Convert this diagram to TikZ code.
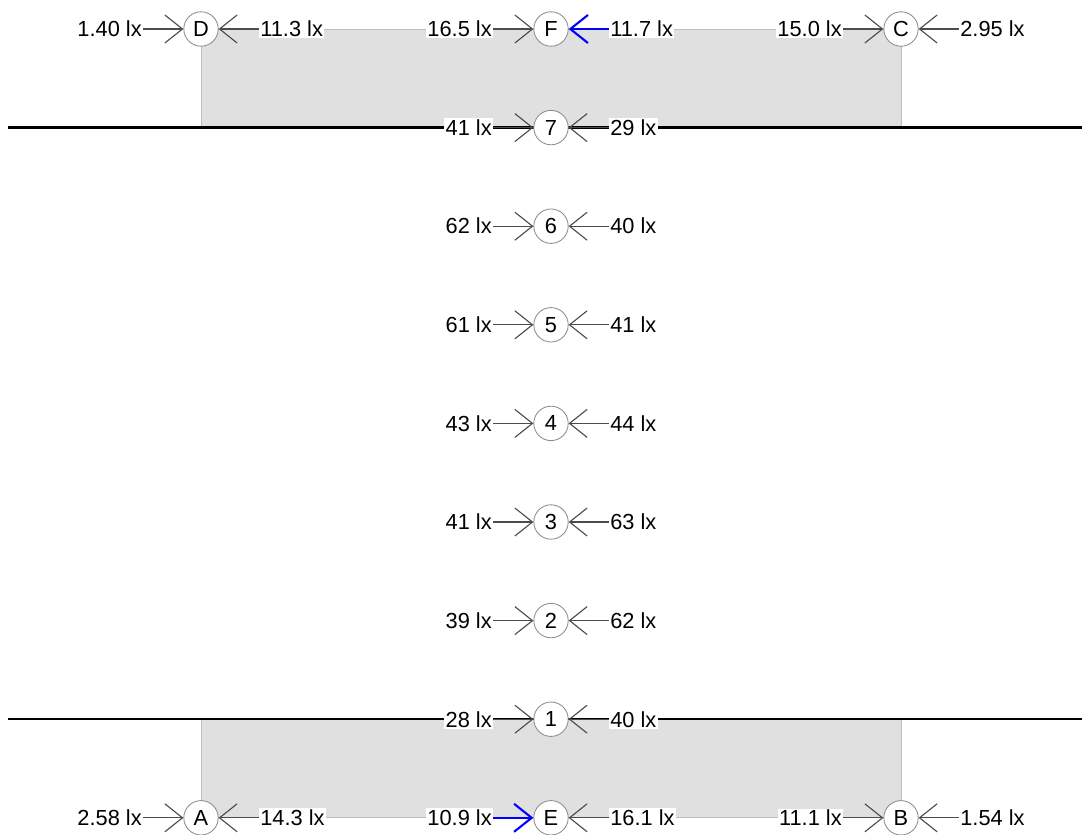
\documentclass[tikz,border=0pt]{standalone}
\usepackage{fontspec}
\setmainfont{Liberation Sans}
\usetikzlibrary{arrows.meta,positioning}

\begin{document}
\begin{tikzpicture}[x=0.025cm, y=-0.025cm,
    pt/.style={circle, draw=black!45, line width=0.6pt, fill=white,
        minimum size=0.86cm, inner sep=0pt, font=\fontsize{15.5}{18}\selectfont},
    lx/.style={fill=white, inner sep=1pt, font=\fontsize{15.5}{18}\selectfont},
    arr/.style={-{Straight Barb[length=0.44cm, width=0.7cm]}, black!70, line width=0.8pt},
    hot/.style={arr, blue, line width=1.5pt}]

    \useasboundingbox (0,0) rectangle (1082,834);

    % 灰色区域
    \filldraw[fill=black!12, draw=black!25, line width=0.6pt] (201,29) rectangle (901,127.6);
    \filldraw[fill=black!12, draw=black!25, line width=0.6pt] (201,719.2) rectangle (901,817.8);

    % 黑线
    \draw[line width=1.6pt] (8,127.6) -- (1082,127.6);
    \draw[line width=1.6pt] (8,719.2) -- (1082,719.2);

    % 上排
    \node[pt] (D) at (201,29) {D};
    \node[pt] (F) at (551,29) {F};
    \node[pt] (C) at (901,29) {C};
    \node[lx, left=1cm of D] (D-l) {1.40 lx};
    \node[lx, right=1cm of D] (D-r) {11.3 lx};
    \node[lx, left=1cm of F] (F-l) {16.5 lx};
    \node[lx, right=1cm of F] (F-r) {11.7 lx};
    \node[lx, left=1cm of C] (C-l) {15.0 lx};
    \node[lx, right=1cm of C] (C-r) {2.95 lx};
    \draw[arr] (D-l) -- (D);
    \draw[arr] (D-r) -- (D);
    \draw[arr] (F-l) -- (F);
    \draw[hot] (F-r) -- (F);
    \draw[arr] (C-l) -- (C);
    \draw[arr] (C-r) -- (C);

    % 中间 1--7
    \node[pt] (n7) at (551,127.6) {7};
    \node[pt] (n6) at (551,226.2) {6};
    \node[pt] (n5) at (551,324.8) {5};
    \node[pt] (n4) at (551,423.4) {4};
    \node[pt] (n3) at (551,522) {3};
    \node[pt] (n2) at (551,620.6) {2};
    \node[pt] (n1) at (551,719.2) {1};

    \node[lx, left=1cm of n7] (n7-l) {41 lx};
    \node[lx, right=1cm of n7] (n7-r) {29 lx};
    \node[lx, left=1cm of n6] (n6-l) {62 lx};
    \node[lx, right=1cm of n6] (n6-r) {40 lx};
    \node[lx, left=1cm of n5] (n5-l) {61 lx};
    \node[lx, right=1cm of n5] (n5-r) {41 lx};
    \node[lx, left=1cm of n4] (n4-l) {43 lx};
    \node[lx, right=1cm of n4] (n4-r) {44 lx};
    \node[lx, left=1cm of n3] (n3-l) {41 lx};
    \node[lx, right=1cm of n3] (n3-r) {63 lx};
    \node[lx, left=1cm of n2] (n2-l) {39 lx};
    \node[lx, right=1cm of n2] (n2-r) {62 lx};
    \node[lx, left=1cm of n1] (n1-l) {28 lx};
    \node[lx, right=1cm of n1] (n1-r) {40 lx};

    \draw[arr] (n7-l) -- (n7);
    \draw[arr] (n7-r) -- (n7);
    \draw[arr] (n6-l) -- (n6);
    \draw[arr] (n6-r) -- (n6);
    \draw[arr] (n5-l) -- (n5);
    \draw[arr] (n5-r) -- (n5);
    \draw[arr] (n4-l) -- (n4);
    \draw[arr] (n4-r) -- (n4);
    \draw[arr] (n3-l) -- (n3);
    \draw[arr] (n3-r) -- (n3);
    \draw[arr] (n2-l) -- (n2);
    \draw[arr] (n2-r) -- (n2);
    \draw[arr] (n1-l) -- (n1);
    \draw[arr] (n1-r) -- (n1);

    % 下排
    \node[pt] (A) at (201,817.8) {A};
    \node[pt] (E) at (551,817.8) {E};
    \node[pt] (B) at (901,817.8) {B};
    \node[lx, left=1cm of A] (A-l) {2.58 lx};
    \node[lx, right=1cm of A] (A-r) {14.3 lx};
    \node[lx, left=1cm of E] (E-l) {10.9 lx};
    \node[lx, right=1cm of E] (E-r) {16.1 lx};
    \node[lx, left=1cm of B] (B-l) {11.1 lx};
    \node[lx, right=1cm of B] (B-r) {1.54 lx};
    \draw[arr] (A-l) -- (A);
    \draw[arr] (A-r) -- (A);
    \draw[hot] (E-l) -- (E);
    \draw[arr] (E-r) -- (E);
    \draw[arr] (B-l) -- (B);
    \draw[arr] (B-r) -- (B);
\end{tikzpicture}
\end{document}
